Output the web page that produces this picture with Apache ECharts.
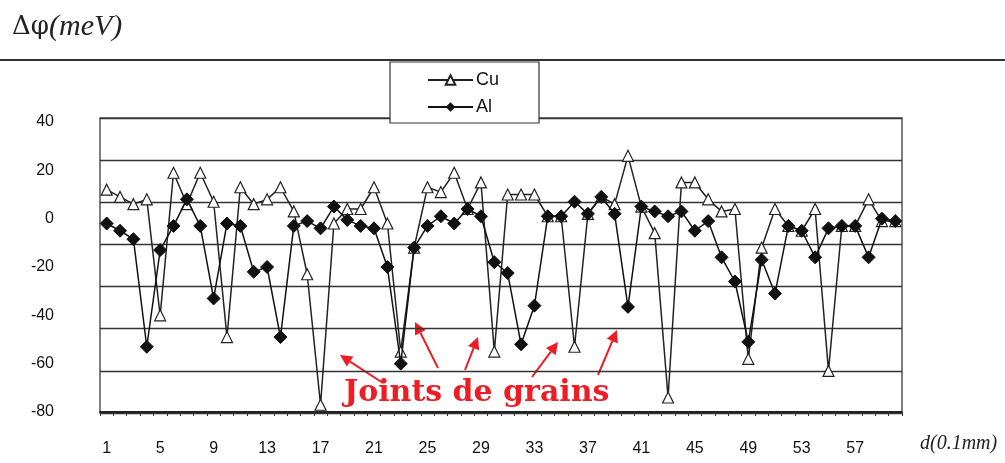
<!DOCTYPE html>
<html>
<head>
<meta charset="utf-8">
<script src="https://cdn.jsdelivr.net/npm/echarts@6/dist/echarts.min.js"></script>
<style>
  html, body { margin: 0; padding: 0; background: #fff; }
  #chart { width: 1005px; height: 463px; }
</style>
</head>
<body>
<div id="chart"></div>
<script>
// positions along the sample, d in units of 0.1 mm
const categories = [];
for (let i = 1; i <= 60; i++) categories.push(String(i));

const cuValues = [12, 9, 6, 8, -40, 19, 6, 19, 7, -49,
  13, 6, 8, 13, 3, -23, -77, -2, 4, 4,
  13, -2, -55, -12, 13, 11, 19, 4, 15, -55,
  10, 10, 10, 1, 1, -53, 2, 9, 6, 26,
  5, -6, -74, 15, 15, 8, 3, 4, -58, -12,
  4, -3, -5, 4, -63, -3, -3, 8, -1, -1];

const alValues = [-2, -5, -8.5, -53, -13, -3, 8, -3, -33, -2,
  -3, -22, -20, -49, -3, -1, -4, 5, -0.5, -3,
  -4, -20, -60, -12, -3, 1, -2, 4, 1, -18,
  -22.5, -52, -36, 1, 1, 7, 2, 9, 2, -36.5,
  5, 3, 1, 3, -5, -1, -16, -26, -51, -17,
  -31, -3, -5, -16, -4, -3, -3, -16, 0, -1];

const seriesNames = ["Cu", "Al"];

// red annotation arrows: [fromX, fromY, toX, toY]
const arrows = [
  [383, 383, 340, 355],
  [438, 368, 415, 322],
  [465, 370, 478, 337],
  [532, 377, 558, 342],
  [598, 375, 617, 330]
];

function arrowGraphics(a) {
  const [x1, y1, x2, y2] = a;
  const ang = Math.atan2(y2 - y1, x2 - x1);
  const len = 12, w = 6;
  const bx = x2 - len * Math.cos(ang), by = y2 - len * Math.sin(ang);
  const px = -Math.sin(ang) * w, py = Math.cos(ang) * w;
  return [
    {
      type: "line",
      shape: { x1: x1, y1: y1, x2: bx, y2: by },
      style: { stroke: "#ee1c25", lineWidth: 2 }
    },
    {
      type: "polygon",
      shape: { points: [[x2, y2], [bx + px, by + py], [bx - px, by - py]] },
      style: { fill: "#ee1c25" }
    }
  ];
}

const chart = echarts.init(document.getElementById("chart"));

let graphics = [
  {
    type: "line",
    shape: { x1: 0, y1: 60, x2: 1005, y2: 60 },
    style: { stroke: "#333", lineWidth: 2 }
  },
  {
    type: "text",
    left: 12,
    top: 12,
    style: {
      text: "{a|Δφ}{b|(meV)}",
      rich: {
        a: { fontFamily: "DejaVu Serif", fontSize: 26, fill: "#222" },
        b: { fontFamily: "Liberation Serif", fontStyle: "italic", fontSize: 30, fill: "#222" }
      }
    }
  },
  {
    type: "text",
    left: 920,
    top: 434,
    style: {
      text: "d(0.1mm)",
      fontFamily: "Liberation Serif",
      fontStyle: "italic",
      fontSize: 20,
      fill: "#222"
    }
  },
  {
    type: "text",
    left: 344,
    top: 378,
    style: {
      text: "Joints de grains",
      fontFamily: "DejaVu Serif",
      fontWeight: "bold",
      fontSize: 30,
      fill: "#ee1c25"
    }
  }
];
arrows.forEach(function (a) {
  graphics = graphics.concat(arrowGraphics(a));
});

const option = {
  animation: false,
  backgroundColor: "#fff",
  legend: {
    data: seriesNames,
    orient: "vertical",
    left: 390,
    top: 62,
    padding: [9, 40, 7, 37],
    itemGap: 9,
    itemWidth: 45,
    itemHeight: 12,
    backgroundColor: "#fff",
    borderColor: "#333",
    borderWidth: 1.2,
    textStyle: {
      fontFamily: "Liberation Sans",
      fontSize: 18,
      color: "#111",
      padding: [0, 0, 0, -2]
    }
  },
  grid: [
    { left: 100, right: 103, top: 122, height: 290 },
    {
      left: 100, right: 103, top: 118, height: 295,
      show: true, borderColor: "#555", borderWidth: 1.5, z: 0
    }
  ],
  xAxis: [
    {
      type: "category",
      gridIndex: 0,
      data: categories,
      boundaryGap: true,
      axisLine: { onZero: false, lineStyle: { color: "#222", width: 2 } },
      axisTick: { show: true, interval: 0, length: 4, lineStyle: { color: "#333" } },
      axisLabel: {
        interval: 3,
        margin: 29,
        fontFamily: "Liberation Sans",
        fontSize: 16,
        color: "#111"
      }
    },
    { type: "value", gridIndex: 1, min: 0, max: 1, show: false }
  ],
  yAxis: [
    {
      type: "value",
      gridIndex: 0,
      min: -80,
      max: 40,
      interval: 20,
      axisLine: { show: false },
      axisTick: { show: false },
      splitLine: { show: false },
      axisLabel: {
        margin: 46,
        fontFamily: "Liberation Sans",
        fontSize: 16,
        color: "#111"
      }
    },
    {
      type: "value",
      gridIndex: 1,
      min: 0,
      max: 7,
      interval: 1,
      axisLine: { show: false },
      axisTick: { show: false },
      axisLabel: { show: false },
      splitLine: { show: true, lineStyle: { color: "#333", width: 1.3 } }
    }
  ],
  series: [
    {
      name: "Cu",
      type: "line",
      xAxisIndex: 0,
      yAxisIndex: 0,
      data: cuValues,
      symbol: "triangle",
      symbolSize: 11,
      showAllSymbol: true,
      lineStyle: { color: "#222", width: 1.5 },
      itemStyle: { color: "#fff", borderColor: "#222", borderWidth: 1.2 },
      z: 3
    },
    {
      name: "Al",
      type: "line",
      xAxisIndex: 0,
      yAxisIndex: 0,
      data: alValues,
      symbol: "diamond",
      symbolSize: 13,
      showAllSymbol: true,
      lineStyle: { color: "#111", width: 1.5 },
      itemStyle: { color: "#111", borderColor: "#111" },
      z: 4
    }
  ],
  graphic: graphics
};

chart.setOption(option);
</script>
</body>
</html>
